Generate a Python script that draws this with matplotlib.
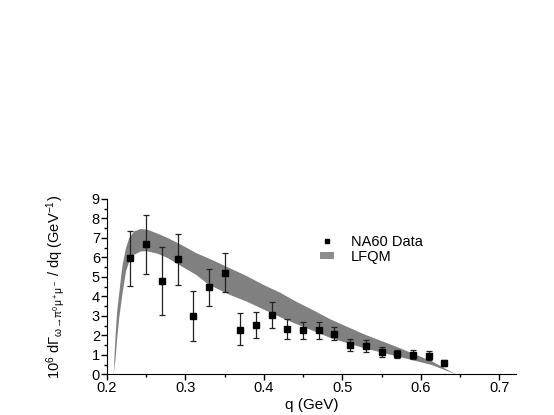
import numpy as np
import matplotlib
matplotlib.use('Agg')
import matplotlib.pyplot as plt
from matplotlib.lines import Line2D
from matplotlib.patches import Patch

plt.rcParams['font.family'] = ['Liberation Sans', 'DejaVu Sans']
plt.rcParams['mathtext.fontset'] = 'custom'
plt.rcParams['mathtext.rm'] = 'Liberation Sans'
plt.rcParams['mathtext.it'] = 'Liberation Sans'
plt.rcParams['mathtext.default'] = 'regular'

# NA60 data points
q_data = [0.23, 0.25, 0.27, 0.29, 0.31, 0.33, 0.35, 0.37, 0.39, 0.41,
          0.43, 0.45, 0.47, 0.49, 0.51, 0.53, 0.55, 0.57, 0.59, 0.61, 0.63]
rate = [5.95, 6.68, 4.78, 5.90, 3.00, 4.50, 5.22, 2.30, 2.52, 3.05,
        2.33, 2.29, 2.26, 2.09, 1.52, 1.47, 1.16, 1.06, 1.01, 0.96, 0.58]
err_up = [7.37, 8.20, 6.55, 7.22, 4.30, 5.43, 6.23, 3.13, 3.22, 3.73,
          2.83, 2.70, 2.67, 2.45, 1.83, 1.75, 1.42, 1.25, 1.23, 1.18, 0.72]
err_lo = [4.55, 5.17, 3.02, 4.60, 1.73, 3.53, 4.25, 1.50, 1.85, 2.37,
          1.83, 1.83, 1.80, 1.76, 1.18, 1.16, 0.91, 0.84, 0.79, 0.74, 0.45]

# LFQM band, upper edge
q_hi = [0.2086, 0.2100, 0.2115, 0.2130, 0.2158, 0.2179, 0.2200, 0.2243,
        0.2285, 0.2349, 0.2434, 0.2519, 0.2647, 0.2774, 0.2927, 0.3140,
        0.3352, 0.3565, 0.3778, 0.3990, 0.4203, 0.4416, 0.4600, 0.4860,
        0.5280, 0.5710, 0.6140, 0.6445]
band_hi = [0.0, 1.2, 2.3, 3.2, 4.2, 4.94, 5.62, 6.48,
           7.00, 7.34, 7.46, 7.42, 7.22, 7.00, 6.69, 6.22,
           5.85, 5.45, 5.05, 4.60, 4.20, 3.72, 3.35, 2.80,
           2.05, 1.38, 0.67, 0.0]
# LFQM band, lower edge
q_lo = [0.2086, 0.2110, 0.2130, 0.2160, 0.2200, 0.2243, 0.2285, 0.2349,
        0.2434, 0.2519, 0.2647, 0.2774, 0.2927, 0.3140, 0.3289, 0.3565,
        0.3778, 0.4097, 0.4288, 0.4586, 0.4860, 0.5280, 0.5710, 0.6140,
        0.6445]
band_lo = [0.0, 0.8, 1.8, 3.0, 4.17, 5.28, 5.79, 6.14,
           6.31, 6.31, 6.19, 5.97, 5.60, 5.10, 4.62, 4.08,
           3.74, 3.14, 2.79, 2.30, 1.85, 1.34, 0.91, 0.48,
           0.0]

rate = np.array(rate)
yerr = [rate - np.array(err_lo), np.array(err_up) - rate]

fig = plt.figure(figsize=(5.54, 4.15), dpi=100)
ax = fig.add_axes([0.193, 0.098, 0.738, 0.4225])

ax.fill(list(q_hi) + list(q_lo[::-1]), list(band_hi) + list(band_lo[::-1]),
        color='#808080', lw=0, zorder=1)
ax.errorbar(q_data, rate, yerr=yerr, fmt='s', color='black', ms=4.5,
            ecolor='#222222', elinewidth=0.9, capsize=2.5, capthick=0.9, zorder=3)

ax.set_xlim(0.2, 0.721)
ax.set_ylim(0, 9)
ax.set_xticks([0.2, 0.3, 0.4, 0.5, 0.6, 0.7])
ax.set_xticks(np.arange(0.25, 0.71, 0.1), minor=True)
ax.set_yticks(range(0, 10))
ax.set_yticks(np.arange(0.5, 9, 1.0), minor=True)
ax.spines['top'].set_visible(False)
ax.spines['right'].set_visible(False)
ax.tick_params(which='major', direction='out', length=4, width=1, labelsize=10.5, pad=1)
ax.tick_params(which='minor', direction='out', length=2, width=1)

ax.set_xlabel('q (GeV)', fontsize=11, labelpad=2)
ax.set_ylabel(r'$10^6$ d$\Gamma_{\omega\!\rightarrow\!\pi^0\mu^+\mu^-}$ / dq (GeV$^{-1}$)',
              fontsize=10.5, labelpad=18)

handles = [Line2D([], [], marker='s', color='black', ls='none', ms=3.5),
           Patch(facecolor='#8c8c8c', edgecolor='none')]
ax.legend(handles, ['NA60 Data', 'LFQM'], loc='upper left',
          bbox_to_anchor=(0.49, 0.87), frameon=False, fontsize=10.5,
          handlelength=0.9, handleheight=0.45, handletextpad=1.2, labelspacing=0.05)

fig.savefig('out.png', dpi=100)
